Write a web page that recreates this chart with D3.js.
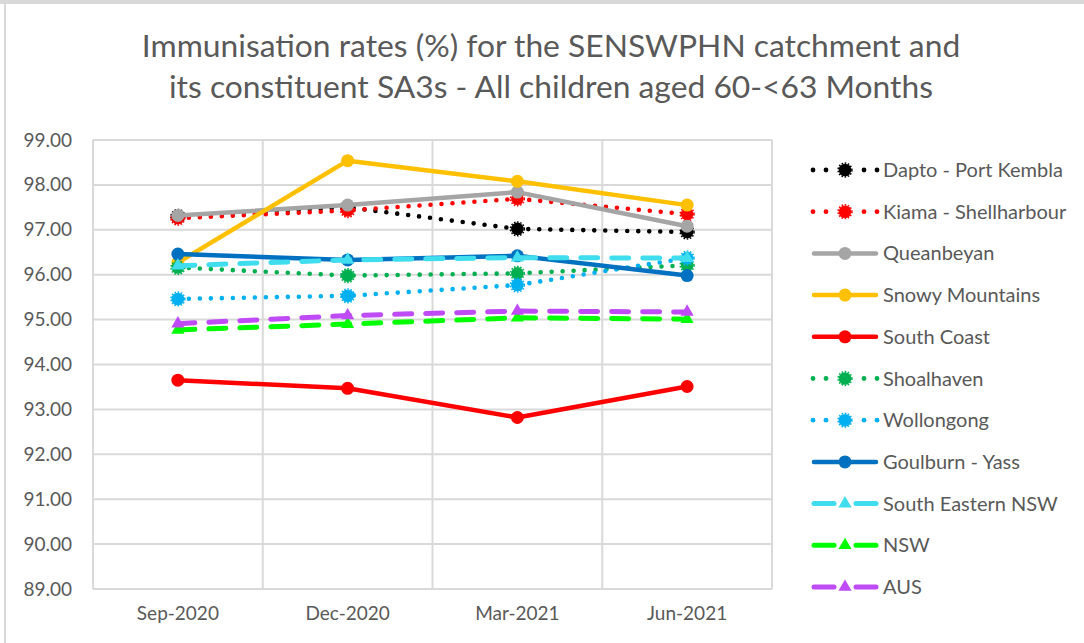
<!DOCTYPE html>
<html>
<head>
<meta charset="utf-8">
<script src="https://cdn.jsdelivr.net/npm/d3@7"></script>
<style>
  html, body { margin: 0; padding: 0; background: #fff; }
  svg { display: block; }
  text { font-family: Lato, "Open Sans", sans-serif; fill: #595959; }
</style>
</head>
<body>
<svg id="chart" width="1084" height="643"></svg>
<script>
// ---- Data ----
const categories = ["Sep-2020", "Dec-2020", "Mar-2021", "Jun-2021"];
const seriesNames = ["Dapto - Port Kembla", "Kiama - Shellharbour", "Queanbeyan", "Snowy Mountains",
  "South Coast", "Shoalhaven", "Wollongong", "Goulburn - Yass", "South Eastern NSW", "NSW", "AUS"];
const daptoValues       = [97.30, 97.50, 97.02, 96.95];
const kiamaValues       = [97.26, 97.43, 97.69, 97.35];
const queanbeyanValues  = [97.32, 97.55, 97.84, 97.08];
const snowyValues       = [96.27, 98.54, 98.08, 97.55];
const southCoastValues  = [93.65, 93.47, 92.82, 93.51];
const shoalhavenValues  = [96.16, 95.98, 96.03, 96.21];
const wollongongValues  = [95.46, 95.53, 95.77, 96.37];
const goulburnValues    = [96.46, 96.33, 96.42, 95.98];
const seNswValues       = [96.20, 96.33, 96.38, 96.37];
const nswValues         = [94.77, 94.90, 95.04, 95.01];
const ausValues         = [94.91, 95.09, 95.19, 95.17];
const yTicks = [89, 90, 91, 92, 93, 94, 95, 96, 97, 98, 99];
const titleLines = ["Immunisation rates (%) for the SENSWPHN catchment and",
                    "its constituent SA3s - All children aged 60-<63 Months"];

const allValues = [daptoValues, kiamaValues, queanbeyanValues, snowyValues, southCoastValues,
  shoalhavenValues, wollongongValues, goulburnValues, seNswValues, nswValues, ausValues];
const colors = ["#000000", "#FF0000", "#A5A5A5", "#FFC000", "#FF0000", "#00B050",
  "#00B0F0", "#0070C0", "#3FDDEE", "#00FF00", "#BE4BF5"];
const styles = ["dot", "dot", "solid", "solid", "solid", "dot", "dot", "solid", "dash", "dash", "dash"];

const svg = d3.select("#chart");

// outer frame remnants
svg.append("rect").attr("x", 0).attr("y", 0).attr("width", 1084).attr("height", 4).attr("fill", "#D9D9D9");
svg.append("rect").attr("x", 4).attr("y", 0).attr("width", 2).attr("height", 643).attr("fill", "#D9D9D9");

// title
svg.append("g").selectAll("text").data(titleLines).join("text")
  .attr("x", 551).attr("y", (d, i) => 57 + i * 41)
  .attr("text-anchor", "middle")
  .style("font-size", "31.8px")
  .text(d => d);

// scales
const plot = { left: 93, right: 772, top: 140, bottom: 589 };
const x = d3.scaleBand().domain(categories).range([plot.left, plot.right]).padding(0);
const y = d3.scaleLinear().domain([89, 99]).range([plot.bottom, plot.top]);
const cx = c => x(c) + x.bandwidth() / 2;

// gridlines
const grid = svg.append("g");
grid.selectAll("line.h").data(yTicks).join("line")
  .attr("x1", plot.left).attr("x2", plot.right)
  .attr("y1", d => y(d)).attr("y2", d => y(d))
  .attr("stroke", "#D9D9D9").attr("stroke-width", 2);
const vb = categories.map(c => x(c)).concat([plot.right]);
grid.selectAll("line.v").data(vb).join("line")
  .attr("x1", d => d).attr("x2", d => d)
  .attr("y1", plot.top).attr("y2", plot.bottom)
  .attr("stroke", "#D9D9D9").attr("stroke-width", 2);

// axes (labels only)
const yAxis = d3.axisLeft(y).tickValues(yTicks).tickFormat(d3.format(".2f")).tickSize(0).tickPadding(21);
const yg = svg.append("g").attr("transform", `translate(${plot.left},0)`).call(yAxis);
yg.select(".domain").remove();
yg.selectAll("text").style("font-size", "19px").attr("fill", "#595959").style("font-family", "Lato, sans-serif");

const xAxis = d3.axisBottom(x).tickSize(0).tickPadding(18);
const xg = svg.append("g").attr("transform", `translate(0,${plot.bottom})`).call(xAxis);
xg.select(".domain").remove();
xg.selectAll("text").style("font-size", "19px").attr("fill", "#595959").style("font-family", "Lato, sans-serif");

// styles
function applyLine(sel, style, color) {
  sel.attr("fill", "none").attr("stroke", color).attr("stroke-linecap", "round").attr("stroke-linejoin", "round");
  if (style === "solid") sel.attr("stroke-width", 4.5);
  else if (style === "dot") sel.attr("stroke-width", 4.6).attr("stroke-dasharray", "0 11");
  else sel.attr("stroke-width", 5).attr("stroke-dasharray", "17 14");
}
function drawMarker(g, style, color, px, py) {
  if (style === "solid") {
    g.append("circle").attr("cx", px).attr("cy", py).attr("r", 6.5).attr("fill", color);
  } else if (style === "dot") {
    g.append("circle").attr("cx", px).attr("cy", py).attr("r", 6.3).attr("fill", color);
    g.append("circle").attr("cx", px).attr("cy", py).attr("r", 6.9).attr("fill", "none")
      .attr("stroke", color).attr("stroke-width", 1.5).attr("stroke-dasharray", "1.6 1.6");
  } else {
    g.append("path").attr("d", d3.symbol(d3.symbolTriangle, 75)())
      .attr("transform", `translate(${px},${py})`).attr("fill", color);
  }
}

const line = d3.line().x((d, i) => cx(categories[i])).y(d => y(d));
const seriesG = svg.append("g");
allValues.forEach((vals, si) => {
  const g = seriesG.append("g");
  g.append("path").datum(vals).attr("d", line).call(s => applyLine(s, styles[si], colors[si]));
  vals.forEach((v, i) => drawMarker(g, styles[si], colors[si], cx(categories[i]), y(v)));
});

// legend
const legend = svg.append("g");
seriesNames.forEach((name, i) => {
  const ly = 170 + i * 41.7;
  const st = styles[i], col = colors[i];
  const g = legend.append("g");
  if (st === "dot") {
    [813, 826, 864, 877].forEach(dx => {
      g.append("circle").attr("cx", dx).attr("cy", ly).attr("r", 2.4).attr("fill", col);
    });
  } else if (st === "solid") {
    g.append("line").attr("x1", 814).attr("x2", 876).attr("y1", ly).attr("y2", ly)
      .attr("stroke", col).attr("stroke-width", 4.5).attr("stroke-linecap", "round");
  } else {
    [[814, 834], [856, 876]].forEach(([a, b]) => {
      g.append("line").attr("x1", a).attr("x2", b).attr("y1", ly).attr("y2", ly)
        .attr("stroke", col).attr("stroke-width", 5).attr("stroke-linecap", "round");
    });
  }
  drawMarker(g, st, col, 845, ly);
  g.append("text").attr("x", 883).attr("y", ly).attr("dy", "0.35em")
    .style("font-size", "20px").text(name);
});
</script>
</body>
</html>
